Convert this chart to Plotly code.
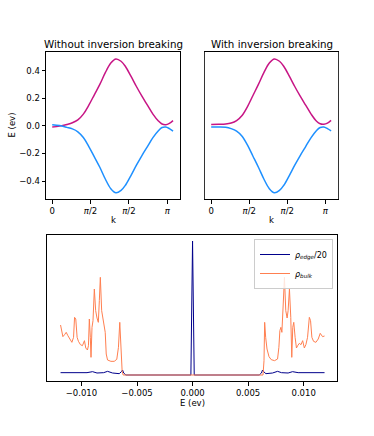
import plotly.graph_objects as go

# band structure, k along the edge
k = [0, 0.2, 0.4, 0.55, 0.7, 0.85, 1.0, 1.15, 1.3, 1.45, 1.6, 1.74, 1.88,
     2.0, 2.15, 2.3, 2.45, 2.6, 2.75, 2.9, 3.0, 3.1, 3.2, 3.3]

upper_noinv = [-0.008, -0.002, 0.010, 0.022, 0.043, 0.085, 0.15, 0.225, 0.30, 0.385, 0.455, 0.485, 0.468,
               0.43, 0.36, 0.285, 0.215, 0.15, 0.085, 0.035, 0.013, 0.008, 0.018, 0.038]
lower_noinv = [0.008, 0.002, -0.011, -0.022, -0.043, -0.085, -0.15, -0.225, -0.30, -0.385, -0.455, -0.485, -0.468,
               -0.43, -0.36, -0.285, -0.215, -0.15, -0.085, -0.035, -0.012, -0.008, -0.02, -0.038]

upper_inv = [0.010, 0.011, 0.013, 0.020, 0.038, 0.075, 0.14, 0.22, 0.30, 0.385, 0.455, 0.485, 0.468,
             0.43, 0.36, 0.285, 0.215, 0.15, 0.085, 0.033, 0.015, 0.012, 0.02, 0.04]
lower_inv = [-0.008, -0.008, -0.010, -0.020, -0.038, -0.075, -0.14, -0.22, -0.30, -0.385, -0.455, -0.485, -0.468,
             -0.43, -0.36, -0.285, -0.215, -0.15, -0.085, -0.033, -0.012, -0.008, -0.02, -0.036]

k_tickvals = [0, 1.0472, 2.0944, 3.1416]
k_ticktext = ["0", "<i>π</i>/2", "<i>π</i>/2", "<i>π</i>"]
e_tickvals = [-0.4, -0.2, 0.0, 0.2, 0.4]
e_ticktext = ["−0.4", "−0.2", "0.0", "0.2", "0.4"]

# density of states
E_edge = [-0.01188, -0.0095, -0.0090, -0.0086, -0.0080, -0.00765, -0.0072, -0.0066, -0.0064, -0.0063,
          -0.0062, -0.0060, -0.00015, 0.0, 0.00015, 0.0060, 0.0062, 0.0063, 0.0064, 0.0066,
          0.0072, 0.00765, 0.0080, 0.0086, 0.0090, 0.0095, 0.01188]
rho_edge = [0.7, 0.7, 1.0, 0.6, 0.7, 1.1, 0.6, 0.4, 1.0, 1.5,
            0.6, 0.0, 0.0, 40.2, 0.0, 0.0, 0.6, 1.5, 1.0, 0.4,
            0.6, 1.1, 0.7, 0.6, 1.0, 0.7, 0.7]

E_bulk = [-0.01188, -0.01167, -0.01152, -0.01137, -0.01122, -0.01107, -0.01086, -0.01071, -0.01062, -0.01051,
          -0.01039, -0.01027, -0.01009, -0.00991, -0.00973, -0.00961, -0.00946, -0.00937, -0.00929, -0.0092,
          -0.00914, -0.00905, -0.00896, -0.00884, -0.00872, -0.0086, -0.00848, -0.00839, -0.0083, -0.00818,
          -0.00807, -0.00795, -0.00786, -0.00777, -0.00765, -0.00735, -0.00705, -0.00682, -0.00667, -0.00655,
          -0.00643, -0.00634, -0.00625,
          0.00634, 0.00643, 0.00649, 0.00658, 0.0067, 0.00688, 0.00708, 0.00738, 0.00765, 0.00777,
          0.00786, 0.00795, 0.00804, 0.00816, 0.00827, 0.00839, 0.00851, 0.0086, 0.00872, 0.00884,
          0.00893, 0.00902, 0.00911, 0.00923, 0.00935, 0.00946, 0.00961, 0.00976, 0.00991, 0.01006,
          0.0102, 0.01035, 0.01051, 0.01062, 0.01074, 0.01089, 0.0111, 0.01131, 0.01149, 0.0117, 0.01188]
rho_bulk = [15.0, 11.5, 12.1, 12.8, 11.8, 10.8, 9.8, 11.3, 17.3, 16.8,
            11.3, 10.1, 9.1, 8.8, 10.3, 8.1, 7.5, 8.8, 16.8, 11.3,
            5.3, 14.3, 16.3, 25.8, 19.3, 17.1, 15.8, 22.3, 29.3, 19.3,
            16.8, 15.3, 12.8, 6.3, 4.5, 4.1, 4.1, 4.7, 8.3, 15.8,
            7.3, 1.3, 0.0,
            0.0, 4.3, 15.8, 11.3, 7.8, 5.5, 4.6, 4.3, 4.8, 8.3,
            13.3, 14.3, 12.8, 21.3, 29.3, 19.3, 17.1, 19.3, 25.8, 17.3,
            5.3, 14.3, 15.8, 11.3, 8.1, 8.8, 9.5, 9.1, 10.3, 8.1,
            9.1, 11.3, 17.3, 16.3, 11.3, 10.1, 9.8, 10.8, 12.5, 11.5, 11.7]
dos_tickvals = [-0.010, -0.005, 0.0, 0.005, 0.010]
dos_ticktext = ["−0.010", "−0.005", "0.000", "0.005", "0.010"]

W, H = 374, 436
FONT = "DejaVu Sans"
magenta = "#c71585"
blue = "#1e90ff"

fig = go.Figure()
fig.add_trace(go.Scatter(x=k, y=upper_noinv, mode="lines", line=dict(color=magenta, width=1.5, shape="spline"),
                         showlegend=False, xaxis="x", yaxis="y"))
fig.add_trace(go.Scatter(x=k, y=lower_noinv, mode="lines", line=dict(color=blue, width=1.5, shape="spline"),
                         showlegend=False, xaxis="x", yaxis="y"))
fig.add_trace(go.Scatter(x=k, y=upper_inv, mode="lines", line=dict(color=magenta, width=1.5, shape="spline"),
                         showlegend=False, xaxis="x2", yaxis="y2"))
fig.add_trace(go.Scatter(x=k, y=lower_inv, mode="lines", line=dict(color=blue, width=1.5, shape="spline"),
                         showlegend=False, xaxis="x2", yaxis="y2"))
fig.add_trace(go.Scatter(x=E_edge, y=rho_edge, mode="lines", line=dict(color="#00008b", width=1),
                         name="<i>ρ<sub>edge</sub></i>/20", xaxis="x3", yaxis="y3"))
fig.add_trace(go.Scatter(x=E_bulk, y=rho_bulk, mode="lines", line=dict(color="#ff7f50", width=1),
                         name="<i>ρ<sub>bulk</sub></i>", xaxis="x3", yaxis="y3"))

def px_x(a, b):
    return [a / W, b / W]

def px_y(top, bot):
    return [1 - bot / H, 1 - top / H]

ax = dict(showline=True, mirror=True, linecolor="black", linewidth=1, showgrid=False, zeroline=False,
          ticks="outside", ticklen=3.5, tickwidth=0.8, tickcolor="black",
          tickfont=dict(family=FONT, size=8.5, color="black"))

fig.update_layout(
    width=W, height=H, margin=dict(l=0, r=0, t=0, b=0),
    paper_bgcolor="white", plot_bgcolor="white",
    font=dict(family=FONT, color="black"),
    xaxis=dict(ax, domain=px_x(46, 180), range=[-0.17, 3.49], tickvals=k_tickvals, ticktext=k_ticktext, anchor="y"),
    yaxis=dict(ax, domain=px_y(52, 199), range=[-0.53, 0.535], tickvals=e_tickvals, ticktext=e_ticktext, anchor="x"),
    xaxis2=dict(ax, domain=px_x(205, 338), range=[-0.17, 3.49], tickvals=k_tickvals, ticktext=k_ticktext, anchor="y2"),
    yaxis2=dict(ax, domain=px_y(52, 199), range=[-0.53, 0.535], showticklabels=False, ticks="", anchor="x2",
                linecolor="#333333"),
    xaxis3=dict(ax, domain=px_x(47, 337), range=[-0.0131, 0.0130], tickvals=dos_tickvals, ticktext=dos_ticktext,
                anchor="y3"),
    yaxis3=dict(ax, domain=px_y(235, 381), range=[-1.8, 42], showticklabels=False, ticks="", anchor="x3"),
    legend=dict(x=333 / W, y=1 - 239 / H, xanchor="right", yanchor="top",
                bgcolor="rgba(255,255,255,0.8)", bordercolor="#cccccc", borderwidth=1,
                font=dict(family=FONT, size=8, color="black"), itemwidth=30, tracegroupgap=0),
)

def label(text, x, y, size=8.5, angle=0):
    fig.add_annotation(text=text, x=x / W, y=1 - y / H, xref="paper", yref="paper", showarrow=False,
                       xanchor="center", yanchor="middle", textangle=angle,
                       font=dict(family=FONT, size=size, color="black"))

label("Without inversion breaking", 113, 44, size=10.3)
label("With inversion breaking", 271.5, 44, size=10.3)
label("E (ev)", 12, 125.5, angle=-90)
label("k", 113, 220)
label("k", 271.5, 220)
label("E (ev)", 192, 403)

# the page body has a default 8px margin, drop it so the figure sits at 0,0
fig.write_html("out.html", config={"displayModeBar": False},
               post_script="document.body.style.margin='0';")
